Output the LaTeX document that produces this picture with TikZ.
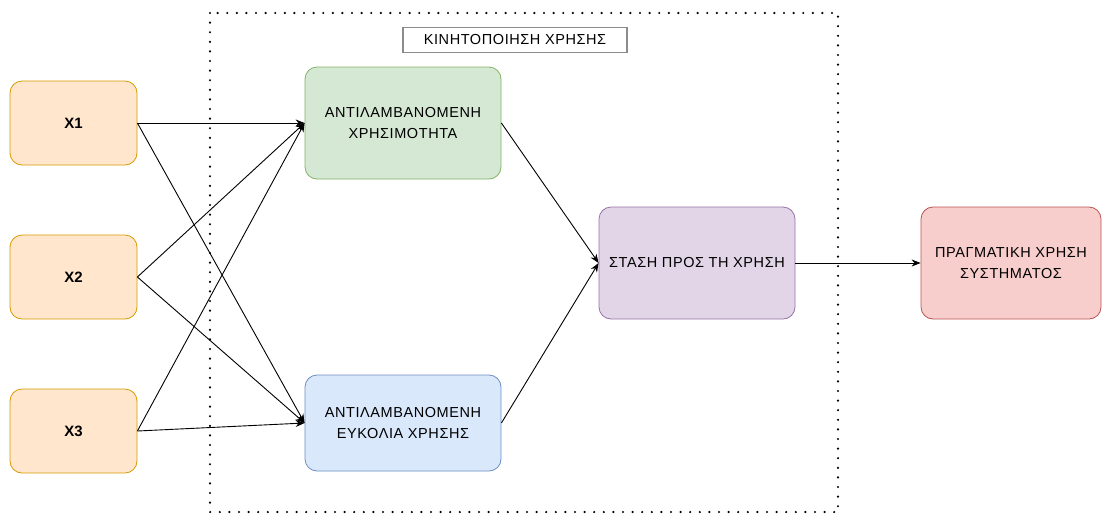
\documentclass[tikz,border=0pt]{standalone}
\usepackage{fontspec}
\setmainfont{Liberation Sans}
\newfontfamily\spaced[LetterSpace=4]{Liberation Sans}
\usetikzlibrary{arrows.meta}
\definecolor{ofill}{HTML}{FFE6CC}\definecolor{odraw}{HTML}{D79B00}
\definecolor{gfill}{HTML}{D5E8D4}\definecolor{gdraw}{HTML}{82B366}
\definecolor{bfill}{HTML}{DAE8FC}\definecolor{bdraw}{HTML}{6C8EBF}
\definecolor{pfill}{HTML}{E1D5E7}\definecolor{pdraw}{HTML}{9673A6}
\definecolor{rfill}{HTML}{F8CECC}\definecolor{rdraw}{HTML}{B85450}
\begin{document}
\begin{tikzpicture}[x=1pt,y=-1pt,
  box/.style={draw, rounded corners=12pt, line width=0.8pt, align=center, font=\spaced\fontsize{14.5}{21}\selectfont, inner sep=0pt},
  xbox/.style={box, fill=ofill, draw=odraw, minimum width=127pt, minimum height=84pt, font=\bfseries\fontsize{15}{16}\selectfont},
  cbox/.style={box, minimum width=196pt},
  arr/.style={-{Stealth[length=9pt,width=7pt]}, line width=0.9pt}]
\useasboundingbox (0,0) rectangle (1108,515);
\draw[line width=2.4pt, dash pattern=on 0pt off 9.6pt, line cap=round] (210,13) rectangle (838,512);
\node[draw=black!45, line width=1.2pt, fill=white, minimum width=224pt, minimum height=25pt, inner sep=0pt, font=\spaced\fontsize{14.5}{15}\selectfont] (lbl) at (515,40) {ΚΙΝΗΤΟΠΟΙΗΣΗ ΧΡΗΣΗΣ};
\node[xbox] (x1) at (73.5,123) {X1};
\node[xbox] (x2) at (73.5,277) {X2};
\node[xbox] (x3) at (73.5,431) {X3};
\node[cbox, fill=gfill, draw=gdraw, minimum height=112pt] (pu) at (403,123) {ΑΝΤΙΛΑΜΒΑΝΟΜΕΝΗ\\ΧΡΗΣΙΜΟΤΗΤΑ};
\node[cbox, fill=bfill, draw=bdraw, minimum height=96pt] (pe) at (403,423) {ΑΝΤΙΛΑΜΒΑΝΟΜΕΝΗ\\ΕΥΚΟΛΙΑ ΧΡΗΣΗΣ};
\node[cbox, fill=pfill, draw=pdraw, minimum height=112pt] (att) at (697,263) {ΣΤΑΣΗ ΠΡΟΣ ΤΗ ΧΡΗΣΗ};
\node[box, fill=rfill, draw=rdraw, minimum width=180pt, minimum height=112pt] (use) at (1011,263) {ΠΡΑΓΜΑΤΙΚΗ ΧΡΗΣΗ\\ΣΥΣΤΗΜΑΤΟΣ};
\foreach \s in {x1,x2,x3}{
  \draw[arr] (\s.east) -- (pu.west);
  \draw[arr] (\s.east) -- (pe.west);
}
\draw[arr] (pu.east) -- (att.west);
\draw[arr] (pe.east) -- (att.west);
\draw[arr] (att.east) -- (use.west);
\end{tikzpicture}
\end{document}
